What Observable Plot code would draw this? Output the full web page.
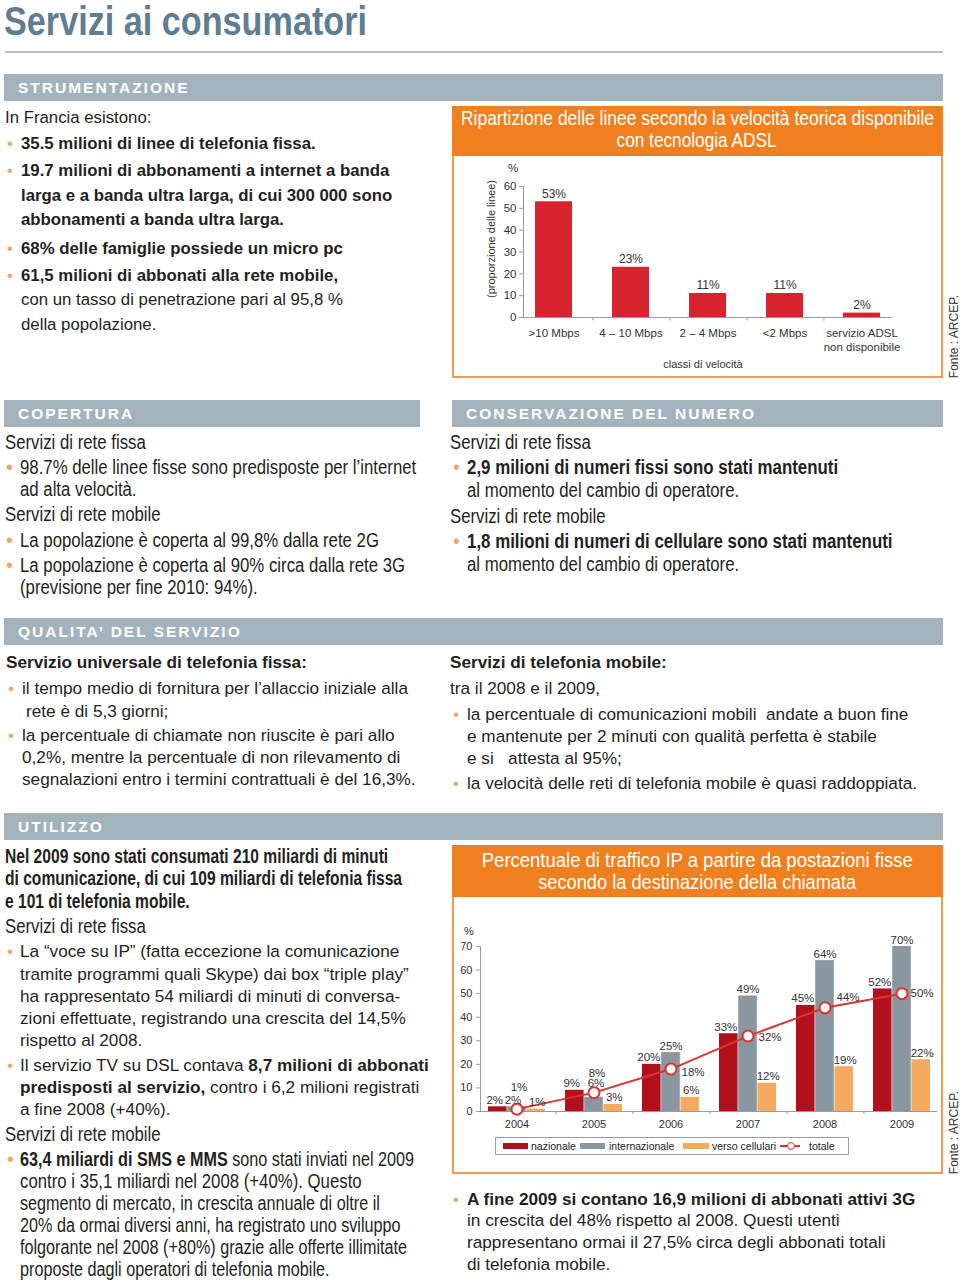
<!DOCTYPE html>
<html><head><meta charset="utf-8">
<script src="https://cdn.jsdelivr.net/npm/d3@7"></script>
<script src="https://cdn.jsdelivr.net/npm/@observablehq/plot@0.6"></script>
<style>
body{margin:0;background:#fff;}
#page{position:relative;width:960px;height:1283px;overflow:hidden;font-family:"Liberation Sans",Arial,sans-serif;color:#231f20;}
.t{position:absolute;white-space:nowrap;line-height:1;transform-origin:0 50%;}
.r{font-size:16.8px;}
.r2{font-size:17.2px;}
.c{font-size:19.5px;}
.b{font-weight:bold;}
.bul{color:#f2a56a;}
.hdr{position:absolute;background:#a2b3be;color:#fff;font-weight:bold;font-size:15.5px;letter-spacing:2px;height:27px;line-height:28px;padding-left:14px;box-sizing:border-box;}
.box{position:absolute;border:2px solid #f39b4d;box-sizing:border-box;}
.band{position:absolute;background:#f0801f;}
.bt{position:absolute;color:#fff;font-size:19.5px;white-space:nowrap;line-height:1;transform-origin:50% 50%;}
.vt{position:absolute;writing-mode:vertical-rl;transform:rotate(180deg);white-space:nowrap;line-height:1;}
.sw{position:absolute;height:6px;}
.lg{position:absolute;font-size:10.5px;line-height:1;transform:translateY(-50%);white-space:nowrap;color:#222;}
.plot{position:absolute;}
</style></head>
<body><div id="page"></div>
<script>
// ---------- data ----------
const adslCategories = [">10 Mbps", "4 – 10 Mbps", "2 – 4 Mbps", "<2 Mbps", "servizio ADSL\nnon disponibile"];
const adslShares = [53, 23, 11, 11, 2];
const adslTicks = [0, 10, 20, 30, 40, 50, 60];

const ipYears = ["2004", "2005", "2006", "2007", "2008", "2009"];
const ipNazionale = [2, 9, 20, 33, 45, 52];
const ipInternazionale = [2, 6, 25, 49, 64, 70];
const ipCellulari = [1, 3, 6, 12, 19, 22];
const ipTotale = [1, 8, 18, 32, 44, 50];
const ipTicks = [0, 10, 20, 30, 40, 50, 60, 70];

const C = {naz:"#b3101e", int:"#8a96a0", cell:"#f4aa61", tot:"#da3530", adsl:"#d7232d", axis:"#9a9a9a"};

const page = document.getElementById("page");
function el(tag, cls, style, html){const e=document.createElement(tag); if(cls) e.className=cls; Object.assign(e.style, style||{}); if(html!=null) e.innerHTML=html; page.appendChild(e); return e;}
// condensed text: Arial metrics squeezed horizontally
function line(x, y, cls, html, bx, sx){
  if(sx==null) sx = /\bc\b/.test(cls) ? (/\bb\b/.test(cls) ? 0.865 : 0.86) : 1;
  el("div", "t "+cls, {left:x+"px", top:y+"px", transform:`translateY(-50%) scaleX(${sx})`}, html);
  if(bx!=null) el("div", "t bul "+cls.replace(/\bb\b/,""), {left:bx+"px", top:y+"px", transform:"translateY(-50%)"}, "•");
}
function fitCenter(cx, y, cls, html, targetW, style){
  const e = el("div", cls, Object.assign({left:"0px", top:y+"px"}, style||{}), html);
  const w = e.getBoundingClientRect().width;
  const s = targetW / w;
  e.style.left = (cx - w/2) + "px";
  e.style.transform = `translateY(-50%) scaleX(${s})`;
  return e;
}

// ---------- page title ----------
(function(){
  const e = el("div", "t", {left:"4px", top:"21px", fontSize:"40px", lineHeight:"1", fontWeight:"bold", color:"#5f7e92"}, "Servizi ai consumatori");
  const w = e.getBoundingClientRect().width;
  e.style.transform = `translateY(-50%) scaleX(${363/w})`;
})();
el("div", "", {position:"absolute", left:"5px", top:"51px", width:"938px", height:"2px", background:"#b9bcbf"});

// ---------- section headers ----------
function hdr(x,y,w,text){el("div","hdr",{left:x+"px",top:y+"px",width:w+"px"},text);}
hdr(4,74,939,"STRUMENTAZIONE");
hdr(4,400,416,"COPERTURA");
hdr(452,400,491,"CONSERVAZIONE DEL NUMERO");
hdr(4,618,939,"QUALITA’ DEL SERVIZIO");
hdr(4,813,939,"UTILIZZO");

// ---------- text blocks ----------
line(5,118,"r","In Francia esistono:");
line(21,144,"r b","35.5 milioni di linee di telefonia fissa.",7);
line(21,171,"r b","19.7 milioni di abbonamenti a internet a banda",7);
line(21,196,"r b","larga e a banda ultra larga, di cui 300 000 sono");
line(21,220,"r b","abbonamenti a banda ultra larga.");
line(21,249,"r b","68% delle famiglie possiede un micro pc",7);
line(21,276,"r b","61,5 milioni di abbonati alla rete mobile,",7);
line(21,300,"r","con un tasso di penetrazione pari al 95,8 %");
line(21,325,"r","della popolazione.");

line(5,443,"c","Servizi di rete fissa");
line(20,468,"c","98.7% delle linee fisse sono predisposte per l’internet",6);
line(20,490,"c","ad alta velocità.");
line(5,515,"c","Servizi di rete mobile");
line(20,541,"c","La popolazione è coperta al 99,8% dalla rete 2G",6);
line(20,566,"c","La popolazione è coperta al 90% circa dalla rete 3G",6);
line(20,588,"c","(previsione per fine 2010: 94%).");

line(450,443,"c","Servizi di rete fissa");
line(467,468,"c b","2,9 milioni di numeri fissi sono stati mantenuti",453);
line(467,491,"c","al momento del cambio di operatore.");
line(450,517,"c","Servizi di rete mobile");
line(467,542,"c b","1,8 milioni di numeri di cellulare sono stati mantenuti",453);
line(467,565,"c","al momento del cambio di operatore.");

line(6,663,"r2 b","Servizio universale di telefonia fissa:");
line(22,689,"r2","il tempo medio di fornitura per l’allaccio iniziale alla",8);
line(26,712,"r2","rete è di 5,3 giorni;");
line(22,736,"r2","la percentuale di chiamate non riuscite è pari allo",8);
line(22,758,"r2","0,2%, mentre la percentuale di non rilevamento di");
line(22,780,"r2","segnalazioni entro i termini contrattuali è del 16,3%.");

line(450,663,"r2 b","Servizi di telefonia mobile:");
line(450,689,"r2","tra il 2008 e il 2009,");
line(467,715,"r2","la percentuale di comunicazioni mobili&nbsp; andate a buon fine",453);
line(467,737,"r2","e mantenute per 2 minuti con qualità perfetta è stabile");
line(467,759,"r2","e si&nbsp;&nbsp; attesta al 95%;");
line(467,784,"r2","la velocità delle reti di telefonia mobile è quasi raddoppiata.",453);

line(5,857,"c b","Nel 2009 sono stati consumati 210 miliardi di minuti",null,0.80);
line(5,879,"c b","di comunicazione, di cui 109 miliardi di telefonia fissa",null,0.80);
line(5,902,"c b","e 101 di telefonia mobile.",null,0.80);
line(5,927,"c","Servizi di rete fissa");
line(20,952,"r2","La “voce su IP” (fatta eccezione la comunicazione",7);
line(20,975,"r2","tramite programmi quali Skype) dai box “triple play”");
line(20,997,"r2","ha rappresentato 54 miliardi di minuti di conversa-");
line(20,1019,"r2","zioni effettuate, registrando una crescita del 14,5%");
line(20,1041,"r2","rispetto al 2008.");
line(20,1066,"r2","Il servizio TV su DSL contava <b>8,7 milioni di abbonati</b>",7);
line(20,1088,"r2","<b>predisposti al servizio,</b> contro i 6,2 milioni registrati");
line(20,1110,"r2","a fine 2008 (+40%).");
line(5,1135,"c","Servizi di rete mobile");
line(20,1160,"c","<b>63,4 miliardi di SMS e MMS</b> sono stati inviati nel 2009",7,0.83);
line(20,1182,"c","contro i 35,1 miliardi nel 2008 (+40%). Questo",null,0.86);
line(20,1204,"c","segmento di mercato, in crescita annuale di oltre il",null,0.83);
line(20,1226,"c","20% da ormai diversi anni, ha registrato uno sviluppo",null,0.83);
line(20,1248,"c","folgorante nel 2008 (+80%) grazie alle offerte illimitate",null,0.83);
line(20,1270,"c","proposte dagli operatori di telefonia mobile.",null,0.83);

line(467,1200,"r2 b","A fine 2009 si contano 16,9 milioni di abbonati attivi 3G",453);
line(467,1221,"r2","in crescita del 48% rispetto al 2008. Questi utenti");
line(467,1243,"r2","rappresentano ormai il 27,5% circa degli abbonati totali");
line(467,1265,"r2","di telefonia mobile.");

// ---------- chart 1: ADSL ----------
el("div","box",{left:"452px",top:"106px",width:"491px",height:"272px"});
el("div","band",{left:"452px",top:"106px",width:"491px",height:"50px"});
fitCenter(697,119,"bt","Ripartizione delle linee secondo la velocità teorica disponibile",473);
fitCenter(697,141,"bt","con tecnologia ADSL",160);

const adslData = adslCategories.map((c,i)=>({cat:c, v:adslShares[i]}));
const adslPadIn = 0.52, adslPadOut = 0.13;
const adslW = 490, adslML = 71, adslMR = 50;
const adslStep = (adslW - adslML - adslMR) / (adslCategories.length - adslPadIn + 2*adslPadOut);
const adsl = Plot.plot({
  width: adslW, height: 220, marginLeft: adslML, marginRight: adslMR, marginTop: 29, marginBottom: 60,
  x: {domain: adslCategories, paddingInner: adslPadIn, paddingOuter: adslPadOut, label: null},
  y: {domain: [0, 60], label: null},
  style: {fontFamily: '"Liberation Sans", Arial, sans-serif', fontSize: "11.5px", color: "#333", background: "transparent", overflow: "visible"},
  marks: [
    Plot.barY(adslData, {x: "cat", y: "v", fill: C.adsl}),
    Plot.text(adslData, {x: "cat", y: "v", text: d => d.v + "%", lineAnchor: "bottom", dy: -4, fontSize: 12, fill: "#333"}),
    Plot.ruleY([0], {stroke: C.axis}),
    Plot.frame({anchor: "left", stroke: C.axis}),
    Plot.ruleX(adslCategories.slice(0, -1), {x: d => d, y1: 0, y2: -1.6, dx: adslStep/2, stroke: C.axis}),
    Plot.axisY({ticks: adslTicks, tickSize: 4, tickPadding: 3, label: null, stroke: C.axis}),
    Plot.axisX({tickSize: 0, tickPadding: 9, label: null, lineHeight: 1.25})
  ]
});
adsl.classList.add("plot"); Object.assign(adsl.style,{left:"452px",top:"157px"});
page.appendChild(adsl);
el("div","t",{left:"508px",top:"169px",fontSize:"11.5px",color:"#333",transform:"translateY(-50%)"},"%");
el("div","t",{left:"703px",top:"364px",fontSize:"11px",color:"#333",transform:"translate(-50%,-50%)"},"classi di velocità");
el("div","vt",{left:"486px",top:"180px",fontSize:"11px",color:"#333"},"(proporzione delle linee)");
el("div","vt",{left:"948px",bottom:(1283-378)+"px",fontSize:"12px",color:"#333"},"Fonte : ARCEP.");

// ---------- chart 2: IP traffic ----------
el("div","box",{left:"452px",top:"845px",width:"491px",height:"329px"});
el("div","band",{left:"452px",top:"845px",width:"491px",height:"52px"});
fitCenter(697,861,"bt","Percentuale di traffico IP a partire da postazioni fisse",431);
fitCenter(697,883,"bt","secondo la destinazione della chiamata",318);

const ipRows = arr => ipYears.map((y,i)=>({year:y, v:arr[i]}));
const naz = ipRows(ipNazionale), inter = ipRows(ipInternazionale), cell = ipRows(ipCellulari), tot = ipRows(ipTotale);
const ipPadIn = 0.26, ipPadOut = 0.064, ipW = 490, ipML = 28, ipMR = 5;
const ipStep = (ipW - ipML - ipMR) / (ipYears.length - ipPadIn + 2*ipPadOut);
const third = ipStep * (1 - ipPadIn) / 3;
const totOffset = {"2004":[2,-22],"2005":[3,-19],"2006":[22,3],"2007":[22,1],"2008":[23,-10],"2009":[20,0]};
const ip = Plot.plot({
  width: ipW, height: 274, marginLeft: ipML, marginRight: ipMR, marginTop: 48, marginBottom: 61,
  x: {domain: ipYears, paddingInner: ipPadIn, paddingOuter: ipPadOut, label: null},
  y: {domain: [0, 70], label: null},
  style: {fontFamily: '"Liberation Sans", Arial, sans-serif', fontSize: "11px", color: "#333", background: "transparent", overflow: "visible"},
  marks: [
    Plot.barY(naz, {x: "year", y: "v", fill: C.naz, insetRight: 2*third}),
    Plot.barY(inter, {x: "year", y: "v", fill: C.int, insetLeft: third, insetRight: third}),
    Plot.barY(cell, {x: "year", y: "v", fill: C.cell, insetLeft: 2*third}),
    Plot.ruleY([0], {stroke: C.axis}),
    Plot.frame({anchor: "left", stroke: C.axis}),
    Plot.ruleX(ipYears.slice(0, -1), {x: d => d, y1: 0, y2: -1.3, dx: ipStep/2, stroke: C.axis}),
    Plot.line(tot, {x: "year", y: "v", stroke: C.tot, strokeWidth: 2}),
    Plot.dot(tot, {x: "year", y: "v", r: 5.5, fill: "white", stroke: C.tot, strokeWidth: 2}),
    Plot.text(naz, {x: "year", y: "v", text: d => d.v + "%", dx: -third - 3, dy: -3, lineAnchor: "bottom", fontSize: 11.5, fill: "#333"}),
    Plot.text(inter.filter(d => d.year !== "2004" && d.year !== "2005"), {x: "year", y: "v", text: d => d.v + "%", dy: -3, lineAnchor: "bottom", fontSize: 11.5, fill: "#333"}),
    Plot.text(inter.filter(d => d.year === "2004"), {x: "year", y: "v", text: d => d.v + "%", dx: -4, dy: -3, lineAnchor: "bottom", fontSize: 11.5, fill: "#333"}),
    Plot.text(inter.filter(d => d.year === "2005"), {x: "year", y: "v", text: d => d.v + "%", dx: 2, dy: -10, lineAnchor: "bottom", fontSize: 11.5, fill: "#333"}),
    Plot.text(cell, {x: "year", y: "v", text: d => d.v + "%", dx: third + 1, dy: -3, lineAnchor: "bottom", fontSize: 11.5, fill: "#333"}),
    ...tot.map(d => Plot.text([d], {x: "year", y: "v", text: d => d.v + "%", dx: totOffset[d.year][0], dy: totOffset[d.year][1], fontSize: 11.5, fill: "#333"})),
    Plot.axisY({ticks: ipTicks, tickSize: 4, tickPadding: 4, label: null, stroke: C.axis}),
    Plot.axisX({tickSize: 0, tickPadding: 9, label: null})
  ]
});
ip.classList.add("plot"); Object.assign(ip.style,{left:"452px",top:"898px"});
page.appendChild(ip);
el("div","t",{left:"464px",top:"931px",fontSize:"11px",color:"#333",transform:"translateY(-50%)"},"%");
el("div","vt",{left:"948px",bottom:(1283-1174)+"px",fontSize:"12px",color:"#333"},"Fonte : ARCEP.");

// legend
el("div","",{position:"absolute",left:"495px",top:"1137px",width:"354px",height:"18px",border:"1px solid #9a9a9a",boxSizing:"border-box"});
el("div","sw",{left:"503px",top:"1143px",width:"25px",background:C.naz});
el("div","lg",{left:"531px",top:"1146px"},"nazionale");
el("div","sw",{left:"580px",top:"1143px",width:"25px",background:C.int});
el("div","lg",{left:"609px",top:"1146px"},"internazionale");
el("div","sw",{left:"683px",top:"1143px",width:"26px",background:C.cell});
el("div","lg",{left:"712px",top:"1146px"},"verso cellulari");
el("div","",{position:"absolute",left:"780px",top:"1145px",width:"20px",height:"2px",background:C.tot});
el("div","",{position:"absolute",left:"787px",top:"1142px",width:"6px",height:"6px",borderRadius:"50%",border:"1.5px solid "+C.tot,background:"#fff"});
el("div","lg",{left:"809px",top:"1146px"},"totale");
</script>
</body></html>
